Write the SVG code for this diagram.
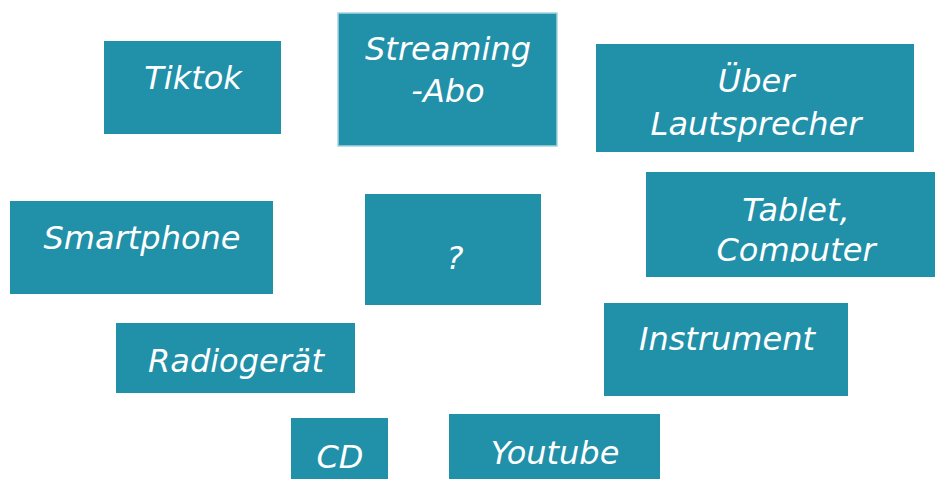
<svg xmlns="http://www.w3.org/2000/svg" width="935" height="479" viewBox="0 0 935 479">
<defs>
<style>
.box{fill:#2190a9}
.bord{stroke:#a6d3de;stroke-width:1.5}
.t{fill:#ffffff;font-family:"DejaVu Sans",Verdana,sans-serif;font-style:italic;font-size:32px;text-anchor:middle}
</style>
<clipPath id="clipTab"><rect x="646" y="172" width="289" height="90"/></clipPath>
</defs>
<rect width="935" height="479" fill="#ffffff"/>
<g id="connectors"></g>
<g id="tiktok"><rect class="box" x="104" y="41" width="177" height="93"/><text class="t" x="193" y="88.5">Tiktok</text></g>
<g id="streaming"><rect class="box bord" x="338" y="13" width="219" height="133"/><text class="t" x="448" y="59.5">Streaming</text><text class="t" x="448" y="101.5">-Abo</text></g>
<g id="lautsprecher"><rect class="box" x="596" y="44" width="318" height="108"/><text class="t" x="756" y="91.5">Über</text><text class="t" x="756" y="134.5">Lautsprecher</text></g>
<g id="smartphone"><rect class="box" x="10" y="201" width="263" height="93"/><text class="t" x="142" y="248.5">Smartphone</text></g>
<g id="question"><rect class="box" x="365" y="194" width="176" height="111"/><text class="t" x="455" y="268.5">?</text></g>
<g id="tablet"><rect class="box" x="646" y="172" width="289" height="105"/><g clip-path="url(#clipTab)"><text class="t" x="796" y="220.5">Tablet,</text><text class="t" x="796" y="260.5">Computer</text></g></g>
<g id="radio"><rect class="box" x="116" y="323" width="239" height="70"/><text class="t" x="236" y="371.5">Radiogerät</text></g>
<g id="instrument"><rect class="box" x="604" y="303" width="244" height="93"/><text class="t" x="727" y="349.5">Instrument</text></g>
<g id="cd"><rect class="box" x="291" y="418" width="97" height="61"/><text class="t" x="340" y="467.5">CD</text></g>
<g id="youtube"><rect class="box" x="449" y="414" width="211" height="65"/><text class="t" x="555" y="463.5">Youtube</text></g>
</svg>
